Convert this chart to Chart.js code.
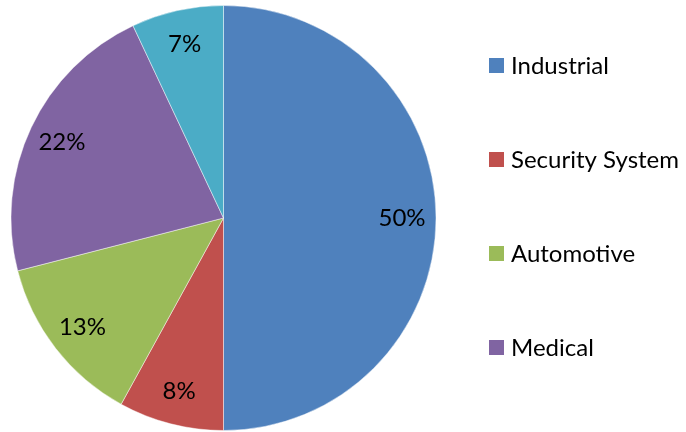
<!DOCTYPE html>
<html>
<head>
<meta charset="utf-8">
<script src="https://cdn.jsdelivr.net/npm/chart.js@4.4.0/dist/chart.umd.min.js"></script>
<style>
  html, body { margin: 0; padding: 0; background: #fff; }
  #wrap { width: 686px; height: 432px; position: relative; }
</style>
</head>
<body>
<div id="wrap"><canvas id="pie"></canvas></div>
<script>
// chart data
const categories = ['Industrial', 'Security System', 'Automotive', 'Medical', 'Other'];
const shares = [50, 8, 13, 22, 7];
const sliceColors = ['#4F81BD', '#C0504D', '#9BBB59', '#8064A2', '#4BACC6'];

const FONT = 'Lato, "Open Sans", sans-serif';

// percentage labels inside each slice
const sliceLabels = {
  id: 'sliceLabels',
  afterDatasetsDraw(chart) {
    const { ctx } = chart;
    const meta = chart.getDatasetMeta(0);
    ctx.save();
    ctx.font = `24px ${FONT}`;
    ctx.fillStyle = '#000';
    ctx.textAlign = 'center';
    ctx.textBaseline = 'middle';
    meta.data.forEach((arc, i) => {
      const p = arc.getProps(['x', 'y', 'startAngle', 'endAngle', 'outerRadius'], true);
      const mid = (p.startAngle + p.endAngle) / 2;
      const r = p.outerRadius * 0.84;
      ctx.fillText(shares[i] + '%', p.x + Math.cos(mid) * r, p.y + Math.sin(mid) * r);
    });
    ctx.restore();
  }
};

// legend on the right, one row every ~94px
const sideLegend = {
  id: 'sideLegend',
  afterDraw(chart) {
    const { ctx } = chart;
    ctx.save();
    ctx.font = `24px ${FONT}`;
    ctx.textBaseline = 'middle';
    ctx.textAlign = 'left';
    chart.data.labels.forEach((lab, i) => {
      const y = 65.5 + i * 94;
      ctx.fillStyle = sliceColors[i];
      ctx.fillRect(489, y - 7.5, 15, 15);
      ctx.fillStyle = '#000';
      ctx.fillText(lab, 511, y + 1);
    });
    ctx.restore();
  }
};

new Chart(document.getElementById('pie'), {
  type: 'pie',
  data: {
    labels: categories,
    datasets: [{
      data: shares,
      backgroundColor: sliceColors,
      borderColor: 'rgba(255,255,255,0.45)',
      borderWidth: 1
    }]
  },
  options: {
    responsive: true,
    maintainAspectRatio: false,
    animation: false,
    layout: { padding: { left: 10, top: 5, right: 249, bottom: 1 } },
    plugins: {
      legend: { display: false },
      tooltip: { enabled: false }
    }
  },
  plugins: [sliceLabels, sideLegend]
});
</script>
</body>
</html>
